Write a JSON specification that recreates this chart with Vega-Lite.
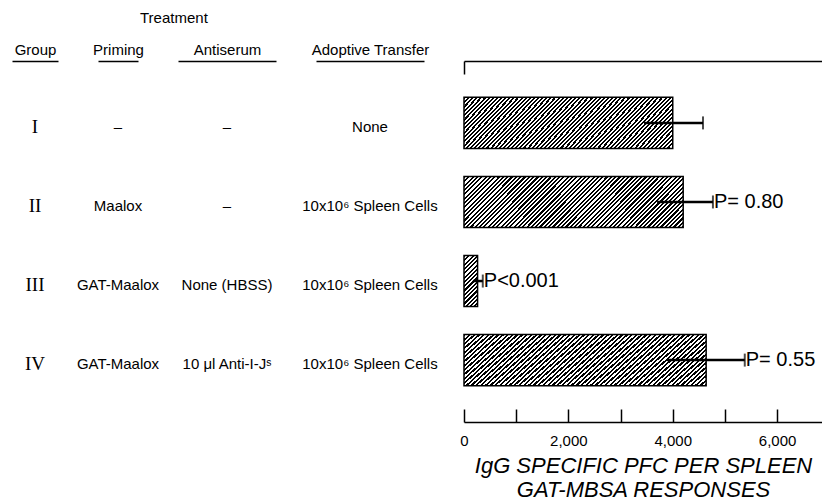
{
  "$schema": "https://vega.github.io/schema/vega-lite/v6.json",
  "autosize": {"type": "pad"},
  "padding": {"left": 12, "top": 11, "right": 0, "bottom": 0},
  "background": "white",
  "config": {
    "view": {"stroke": null},
    "font": "Liberation Sans",
    "title": {"font": "Liberation Sans", "fontSize": 15, "fontWeight": "normal", "color": "black"}
  },
  "title": {"text": "Treatment", "anchor": "start", "dx": 128, "offset": 16},
  "data": {
    "values": [
      {"group": "I", "priming": "–", "antiserum": "–", "transfer": "None", "pfc": 4000, "lo": 3450, "hi": 4580, "p": ""},
      {"group": "II", "priming": "Maalox", "antiserum": "–", "transfer": "10x10⁶ Spleen Cells", "pfc": 4200, "lo": 3700, "hi": 4770, "p": "P= 0.80"},
      {"group": "III", "priming": "GAT-Maalox", "antiserum": "None (HBSS)", "transfer": "10x10⁶ Spleen Cells", "pfc": 260, "lo": 170, "hi": 360, "p": "P<0.001"},
      {"group": "IV", "priming": "GAT-Maalox", "antiserum": "10 μl Anti-I-Jˢ", "transfer": "10x10⁶ Spleen Cells", "pfc": 4640, "lo": 3890, "hi": 5380, "p": "P= 0.55"}
    ]
  },
  "hconcat": [
    {
      "width": 46, "height": 361,
      "mark": {"type": "text", "font": "Liberation Serif", "fontSize": 19, "baseline": "middle", "dy": 4},
      "encoding": {
        "x": {"datum": 0, "type": "quantitative", "scale": {"domain": [-1, 1]},
              "axis": {"orient": "top", "title": "Group", "labels": false, "ticks": false, "grid": false, "domain": true, "domainColor": "black", "domainWidth": 1.5, "titlePadding": 4, "titleFontSize": 15, "titleFontWeight": "normal", "titleColor": "black"}},
        "y": {"field": "group", "type": "nominal", "sort": null, "scale": {"type": "band", "domain": ["I", "II", "III", "IV"], "paddingInner": 0.354, "paddingOuter": 0.46}, "axis": null},
        "text": {"field": "group"}
      }
    },
    {
      "width": 40, "height": 361,
      "mark": {"type": "text", "fontSize": 15, "baseline": "middle", "dy": 4},
      "encoding": {
        "x": {"datum": 0, "type": "quantitative", "scale": {"domain": [-1, 1]},
              "axis": {"orient": "top", "title": "Priming", "labels": false, "ticks": false, "grid": false, "domain": true, "domainColor": "black", "domainWidth": 1.5, "titlePadding": 4, "titleFontSize": 15, "titleFontWeight": "normal", "titleColor": "black"}},
        "y": {"field": "group", "type": "nominal", "sort": null, "scale": {"type": "band", "domain": ["I", "II", "III", "IV"], "paddingInner": 0.354, "paddingOuter": 0.46}, "axis": null},
        "text": {"field": "priming"}
      }
    },
    {
      "width": 98, "height": 361,
      "mark": {"type": "text", "fontSize": 15, "baseline": "middle", "dy": 4},
      "encoding": {
        "x": {"datum": 0, "type": "quantitative", "scale": {"domain": [-1, 1]},
              "axis": {"orient": "top", "title": "Antiserum", "labels": false, "ticks": false, "grid": false, "domain": true, "domainColor": "black", "domainWidth": 1.5, "titlePadding": 4, "titleFontSize": 15, "titleFontWeight": "normal", "titleColor": "black"}},
        "y": {"field": "group", "type": "nominal", "sort": null, "scale": {"type": "band", "domain": ["I", "II", "III", "IV"], "paddingInner": 0.354, "paddingOuter": 0.46}, "axis": null},
        "text": {"field": "antiserum"}
      }
    },
    {
      "width": 108, "height": 361,
      "mark": {"type": "text", "fontSize": 15, "baseline": "middle", "dy": 4},
      "encoding": {
        "x": {"datum": 0, "type": "quantitative", "scale": {"domain": [-1, 1]},
              "axis": {"orient": "top", "title": "Adoptive Transfer", "labels": false, "ticks": false, "grid": false, "domain": true, "domainColor": "black", "domainWidth": 1.5, "titlePadding": 4, "titleFontSize": 15, "titleFontWeight": "normal", "titleColor": "black"}},
        "y": {"field": "group", "type": "nominal", "sort": null, "scale": {"type": "band", "domain": ["I", "II", "III", "IV"], "paddingInner": 0.354, "paddingOuter": 0.46}, "axis": null},
        "text": {"field": "transfer"}
      }
    },
    {
      "width": 358, "height": 361,
      "resolve": {"axis": {"x": "independent"}},
      "encoding": {
        "y": {"field": "group", "type": "nominal", "sort": null, "scale": {"type": "band", "domain": ["I", "II", "III", "IV"], "paddingInner": 0.354, "paddingOuter": 0.46}, "axis": null}
      },
      "layer": [
        {
          "mark": {"type": "bar", "stroke": "black", "strokeWidth": 1.5},
          "encoding": {
            "x": {"field": "pfc", "type": "quantitative", "scale": {"domain": [0, 6860], "nice": false},
                  "axis": {"orient": "bottom", "values": [0, 1000, 2000, 3000, 4000, 5000, 6000], "labelExpr": "datum.value % 2000 === 0 ? format(datum.value, ',') : ''", "tickSize": -13, "tickWidth": 1.5, "tickColor": "black", "domainColor": "black", "domainWidth": 1.5, "grid": false, "labelFontSize": 15, "labelColor": "black", "labelPadding": 24, "labelFlush": false,
                           "title": ["IgG SPECIFIC PFC PER SPLEEN", "GAT-MBSA RESPONSES"], "titleFont": "Liberation Sans", "titleFontStyle": "italic", "titleFontWeight": "normal", "titleFontSize": 22, "titleColor": "black", "titlePadding": 7, "titleLineHeight": 24}},
            "fill": {
              "condition": {"test": "datum.group === 'III'", "value": {"gradient": "linear", "x1": 0, "y1": 0, "x2": 0.3154, "y2": 1.1826, "stops": [
                {"offset": 0, "color": "#000"},
                {"offset": 0.0333, "color": "#000"}, {"offset": 0.0333, "color": "#fff"},
                {"offset": 0.0667, "color": "#fff"}, {"offset": 0.0667, "color": "#000"},
                {"offset": 0.1, "color": "#000"}, {"offset": 0.1, "color": "#fff"},
                {"offset": 0.1333, "color": "#fff"}, {"offset": 0.1333, "color": "#000"},
                {"offset": 0.1667, "color": "#000"}, {"offset": 0.1667, "color": "#fff"},
                {"offset": 0.2, "color": "#fff"}, {"offset": 0.2, "color": "#000"},
                {"offset": 0.2333, "color": "#000"}, {"offset": 0.2333, "color": "#fff"},
                {"offset": 0.2667, "color": "#fff"}, {"offset": 0.2667, "color": "#000"},
                {"offset": 0.3, "color": "#000"}, {"offset": 0.3, "color": "#fff"},
                {"offset": 0.3333, "color": "#fff"}, {"offset": 0.3333, "color": "#000"},
                {"offset": 0.3667, "color": "#000"}, {"offset": 0.3667, "color": "#fff"},
                {"offset": 0.4, "color": "#fff"}, {"offset": 0.4, "color": "#000"},
                {"offset": 0.4333, "color": "#000"}, {"offset": 0.4333, "color": "#fff"},
                {"offset": 0.4667, "color": "#fff"}, {"offset": 0.4667, "color": "#000"},
                {"offset": 0.5, "color": "#000"}, {"offset": 0.5, "color": "#fff"},
                {"offset": 0.5333, "color": "#fff"}, {"offset": 0.5333, "color": "#000"},
                {"offset": 0.5667, "color": "#000"}, {"offset": 0.5667, "color": "#fff"},
                {"offset": 0.6, "color": "#fff"}, {"offset": 0.6, "color": "#000"},
                {"offset": 0.6333, "color": "#000"}, {"offset": 0.6333, "color": "#fff"},
                {"offset": 0.6667, "color": "#fff"}, {"offset": 0.6667, "color": "#000"},
                {"offset": 0.7, "color": "#000"}, {"offset": 0.7, "color": "#fff"},
                {"offset": 0.7333, "color": "#fff"}, {"offset": 0.7333, "color": "#000"},
                {"offset": 0.7667, "color": "#000"}, {"offset": 0.7667, "color": "#fff"},
                {"offset": 0.8, "color": "#fff"}, {"offset": 0.8, "color": "#000"},
                {"offset": 0.8333, "color": "#000"}, {"offset": 0.8333, "color": "#fff"},
                {"offset": 0.8667, "color": "#fff"}, {"offset": 0.8667, "color": "#000"},
                {"offset": 0.9, "color": "#000"}, {"offset": 0.9, "color": "#fff"},
                {"offset": 0.9333, "color": "#fff"}, {"offset": 0.9333, "color": "#000"},
                {"offset": 0.9667, "color": "#000"}, {"offset": 0.9667, "color": "#fff"},
                {"offset": 1, "color": "#fff"}
              ]}},
              "value": {"gradient": "linear", "x1": 0, "y1": 0, "x2": 1.169, "y2": 0.271, "stops": [
                {"offset": 0, "color": "#000"},
                {"offset": 0.008, "color": "#000"}, {"offset": 0.008, "color": "#fff"},
                {"offset": 0.016, "color": "#fff"}, {"offset": 0.016, "color": "#000"},
                {"offset": 0.024, "color": "#000"}, {"offset": 0.024, "color": "#fff"},
                {"offset": 0.032, "color": "#fff"}, {"offset": 0.032, "color": "#000"},
                {"offset": 0.04, "color": "#000"}, {"offset": 0.04, "color": "#fff"},
                {"offset": 0.048, "color": "#fff"}, {"offset": 0.048, "color": "#000"},
                {"offset": 0.056, "color": "#000"}, {"offset": 0.056, "color": "#fff"},
                {"offset": 0.064, "color": "#fff"}, {"offset": 0.064, "color": "#000"},
                {"offset": 0.072, "color": "#000"}, {"offset": 0.072, "color": "#fff"},
                {"offset": 0.08, "color": "#fff"}, {"offset": 0.08, "color": "#000"},
                {"offset": 0.088, "color": "#000"}, {"offset": 0.088, "color": "#fff"},
                {"offset": 0.096, "color": "#fff"}, {"offset": 0.096, "color": "#000"},
                {"offset": 0.104, "color": "#000"}, {"offset": 0.104, "color": "#fff"},
                {"offset": 0.112, "color": "#fff"}, {"offset": 0.112, "color": "#000"},
                {"offset": 0.12, "color": "#000"}, {"offset": 0.12, "color": "#fff"},
                {"offset": 0.128, "color": "#fff"}, {"offset": 0.128, "color": "#000"},
                {"offset": 0.136, "color": "#000"}, {"offset": 0.136, "color": "#fff"},
                {"offset": 0.144, "color": "#fff"}, {"offset": 0.144, "color": "#000"},
                {"offset": 0.152, "color": "#000"}, {"offset": 0.152, "color": "#fff"},
                {"offset": 0.16, "color": "#fff"}, {"offset": 0.16, "color": "#000"},
                {"offset": 0.168, "color": "#000"}, {"offset": 0.168, "color": "#fff"},
                {"offset": 0.176, "color": "#fff"}, {"offset": 0.176, "color": "#000"},
                {"offset": 0.184, "color": "#000"}, {"offset": 0.184, "color": "#fff"},
                {"offset": 0.192, "color": "#fff"}, {"offset": 0.192, "color": "#000"},
                {"offset": 0.2, "color": "#000"}, {"offset": 0.2, "color": "#fff"},
                {"offset": 0.208, "color": "#fff"}, {"offset": 0.208, "color": "#000"},
                {"offset": 0.216, "color": "#000"}, {"offset": 0.216, "color": "#fff"},
                {"offset": 0.224, "color": "#fff"}, {"offset": 0.224, "color": "#000"},
                {"offset": 0.232, "color": "#000"}, {"offset": 0.232, "color": "#fff"},
                {"offset": 0.24, "color": "#fff"}, {"offset": 0.24, "color": "#000"},
                {"offset": 0.248, "color": "#000"}, {"offset": 0.248, "color": "#fff"},
                {"offset": 0.256, "color": "#fff"}, {"offset": 0.256, "color": "#000"},
                {"offset": 0.264, "color": "#000"}, {"offset": 0.264, "color": "#fff"},
                {"offset": 0.272, "color": "#fff"}, {"offset": 0.272, "color": "#000"},
                {"offset": 0.28, "color": "#000"}, {"offset": 0.28, "color": "#fff"},
                {"offset": 0.288, "color": "#fff"}, {"offset": 0.288, "color": "#000"},
                {"offset": 0.296, "color": "#000"}, {"offset": 0.296, "color": "#fff"},
                {"offset": 0.304, "color": "#fff"}, {"offset": 0.304, "color": "#000"},
                {"offset": 0.312, "color": "#000"}, {"offset": 0.312, "color": "#fff"},
                {"offset": 0.32, "color": "#fff"}, {"offset": 0.32, "color": "#000"},
                {"offset": 0.328, "color": "#000"}, {"offset": 0.328, "color": "#fff"},
                {"offset": 0.336, "color": "#fff"}, {"offset": 0.336, "color": "#000"},
                {"offset": 0.344, "color": "#000"}, {"offset": 0.344, "color": "#fff"},
                {"offset": 0.352, "color": "#fff"}, {"offset": 0.352, "color": "#000"},
                {"offset": 0.36, "color": "#000"}, {"offset": 0.36, "color": "#fff"},
                {"offset": 0.368, "color": "#fff"}, {"offset": 0.368, "color": "#000"},
                {"offset": 0.376, "color": "#000"}, {"offset": 0.376, "color": "#fff"},
                {"offset": 0.384, "color": "#fff"}, {"offset": 0.384, "color": "#000"},
                {"offset": 0.392, "color": "#000"}, {"offset": 0.392, "color": "#fff"},
                {"offset": 0.4, "color": "#fff"}, {"offset": 0.4, "color": "#000"},
                {"offset": 0.408, "color": "#000"}, {"offset": 0.408, "color": "#fff"},
                {"offset": 0.416, "color": "#fff"}, {"offset": 0.416, "color": "#000"},
                {"offset": 0.424, "color": "#000"}, {"offset": 0.424, "color": "#fff"},
                {"offset": 0.432, "color": "#fff"}, {"offset": 0.432, "color": "#000"},
                {"offset": 0.44, "color": "#000"}, {"offset": 0.44, "color": "#fff"},
                {"offset": 0.448, "color": "#fff"}, {"offset": 0.448, "color": "#000"},
                {"offset": 0.456, "color": "#000"}, {"offset": 0.456, "color": "#fff"},
                {"offset": 0.464, "color": "#fff"}, {"offset": 0.464, "color": "#000"},
                {"offset": 0.472, "color": "#000"}, {"offset": 0.472, "color": "#fff"},
                {"offset": 0.48, "color": "#fff"}, {"offset": 0.48, "color": "#000"},
                {"offset": 0.488, "color": "#000"}, {"offset": 0.488, "color": "#fff"},
                {"offset": 0.496, "color": "#fff"}, {"offset": 0.496, "color": "#000"},
                {"offset": 0.504, "color": "#000"}, {"offset": 0.504, "color": "#fff"},
                {"offset": 0.512, "color": "#fff"}, {"offset": 0.512, "color": "#000"},
                {"offset": 0.52, "color": "#000"}, {"offset": 0.52, "color": "#fff"},
                {"offset": 0.528, "color": "#fff"}, {"offset": 0.528, "color": "#000"},
                {"offset": 0.536, "color": "#000"}, {"offset": 0.536, "color": "#fff"},
                {"offset": 0.544, "color": "#fff"}, {"offset": 0.544, "color": "#000"},
                {"offset": 0.552, "color": "#000"}, {"offset": 0.552, "color": "#fff"},
                {"offset": 0.56, "color": "#fff"}, {"offset": 0.56, "color": "#000"},
                {"offset": 0.568, "color": "#000"}, {"offset": 0.568, "color": "#fff"},
                {"offset": 0.576, "color": "#fff"}, {"offset": 0.576, "color": "#000"},
                {"offset": 0.584, "color": "#000"}, {"offset": 0.584, "color": "#fff"},
                {"offset": 0.592, "color": "#fff"}, {"offset": 0.592, "color": "#000"},
                {"offset": 0.6, "color": "#000"}, {"offset": 0.6, "color": "#fff"},
                {"offset": 0.608, "color": "#fff"}, {"offset": 0.608, "color": "#000"},
                {"offset": 0.616, "color": "#000"}, {"offset": 0.616, "color": "#fff"},
                {"offset": 0.624, "color": "#fff"}, {"offset": 0.624, "color": "#000"},
                {"offset": 0.632, "color": "#000"}, {"offset": 0.632, "color": "#fff"},
                {"offset": 0.64, "color": "#fff"}, {"offset": 0.64, "color": "#000"},
                {"offset": 0.648, "color": "#000"}, {"offset": 0.648, "color": "#fff"},
                {"offset": 0.656, "color": "#fff"}, {"offset": 0.656, "color": "#000"},
                {"offset": 0.664, "color": "#000"}, {"offset": 0.664, "color": "#fff"},
                {"offset": 0.672, "color": "#fff"}, {"offset": 0.672, "color": "#000"},
                {"offset": 0.68, "color": "#000"}, {"offset": 0.68, "color": "#fff"},
                {"offset": 0.688, "color": "#fff"}, {"offset": 0.688, "color": "#000"},
                {"offset": 0.696, "color": "#000"}, {"offset": 0.696, "color": "#fff"},
                {"offset": 0.704, "color": "#fff"}, {"offset": 0.704, "color": "#000"},
                {"offset": 0.712, "color": "#000"}, {"offset": 0.712, "color": "#fff"},
                {"offset": 0.72, "color": "#fff"}, {"offset": 0.72, "color": "#000"},
                {"offset": 0.728, "color": "#000"}, {"offset": 0.728, "color": "#fff"},
                {"offset": 0.736, "color": "#fff"}, {"offset": 0.736, "color": "#000"},
                {"offset": 0.744, "color": "#000"}, {"offset": 0.744, "color": "#fff"},
                {"offset": 0.752, "color": "#fff"}, {"offset": 0.752, "color": "#000"},
                {"offset": 0.76, "color": "#000"}, {"offset": 0.76, "color": "#fff"},
                {"offset": 0.768, "color": "#fff"}, {"offset": 0.768, "color": "#000"},
                {"offset": 0.776, "color": "#000"}, {"offset": 0.776, "color": "#fff"},
                {"offset": 0.784, "color": "#fff"}, {"offset": 0.784, "color": "#000"},
                {"offset": 0.792, "color": "#000"}, {"offset": 0.792, "color": "#fff"},
                {"offset": 0.8, "color": "#fff"}, {"offset": 0.8, "color": "#000"},
                {"offset": 0.808, "color": "#000"}, {"offset": 0.808, "color": "#fff"},
                {"offset": 0.816, "color": "#fff"}, {"offset": 0.816, "color": "#000"},
                {"offset": 0.824, "color": "#000"}, {"offset": 0.824, "color": "#fff"},
                {"offset": 0.832, "color": "#fff"}, {"offset": 0.832, "color": "#000"},
                {"offset": 0.84, "color": "#000"}, {"offset": 0.84, "color": "#fff"},
                {"offset": 0.848, "color": "#fff"}, {"offset": 0.848, "color": "#000"},
                {"offset": 0.856, "color": "#000"}, {"offset": 0.856, "color": "#fff"},
                {"offset": 0.864, "color": "#fff"}, {"offset": 0.864, "color": "#000"},
                {"offset": 0.872, "color": "#000"}, {"offset": 0.872, "color": "#fff"},
                {"offset": 0.88, "color": "#fff"}, {"offset": 0.88, "color": "#000"},
                {"offset": 0.888, "color": "#000"}, {"offset": 0.888, "color": "#fff"},
                {"offset": 0.896, "color": "#fff"}, {"offset": 0.896, "color": "#000"},
                {"offset": 0.904, "color": "#000"}, {"offset": 0.904, "color": "#fff"},
                {"offset": 0.912, "color": "#fff"}, {"offset": 0.912, "color": "#000"},
                {"offset": 0.92, "color": "#000"}, {"offset": 0.92, "color": "#fff"},
                {"offset": 0.928, "color": "#fff"}, {"offset": 0.928, "color": "#000"},
                {"offset": 0.936, "color": "#000"}, {"offset": 0.936, "color": "#fff"},
                {"offset": 0.944, "color": "#fff"}, {"offset": 0.944, "color": "#000"},
                {"offset": 0.952, "color": "#000"}, {"offset": 0.952, "color": "#fff"},
                {"offset": 0.96, "color": "#fff"}, {"offset": 0.96, "color": "#000"},
                {"offset": 0.968, "color": "#000"}, {"offset": 0.968, "color": "#fff"},
                {"offset": 0.976, "color": "#fff"}, {"offset": 0.976, "color": "#000"},
                {"offset": 0.984, "color": "#000"}, {"offset": 0.984, "color": "#fff"},
                {"offset": 0.992, "color": "#fff"}, {"offset": 0.992, "color": "#000"},
                {"offset": 1, "color": "#000"}
              ]}
            }
          }
        },
        {
          "mark": {"type": "rule", "strokeWidth": 2.5, "color": "black"},
          "encoding": {
            "x": {"field": "lo", "type": "quantitative",
                  "axis": {"orient": "top", "values": [0], "labels": false, "tickSize": -13, "tickWidth": 1.5, "tickColor": "black", "domainColor": "black", "domainWidth": 1.5, "grid": false, "title": null}},
            "x2": {"field": "hi"}
          }
        },
        {
          "mark": {"type": "tick", "orient": "vertical", "size": 13, "thickness": 2, "color": "black"},
          "encoding": {"x": {"field": "hi", "type": "quantitative", "axis": null}}
        },
        {
          "mark": {"type": "text", "align": "left", "baseline": "middle", "dx": 1, "fontSize": 20, "font": "Liberation Sans", "color": "black"},
          "encoding": {"x": {"field": "hi", "type": "quantitative", "axis": null}, "text": {"field": "p"}}
        }
      ]
    }
  ],
  "spacing": 40,
  "bounds": "flush"
}
